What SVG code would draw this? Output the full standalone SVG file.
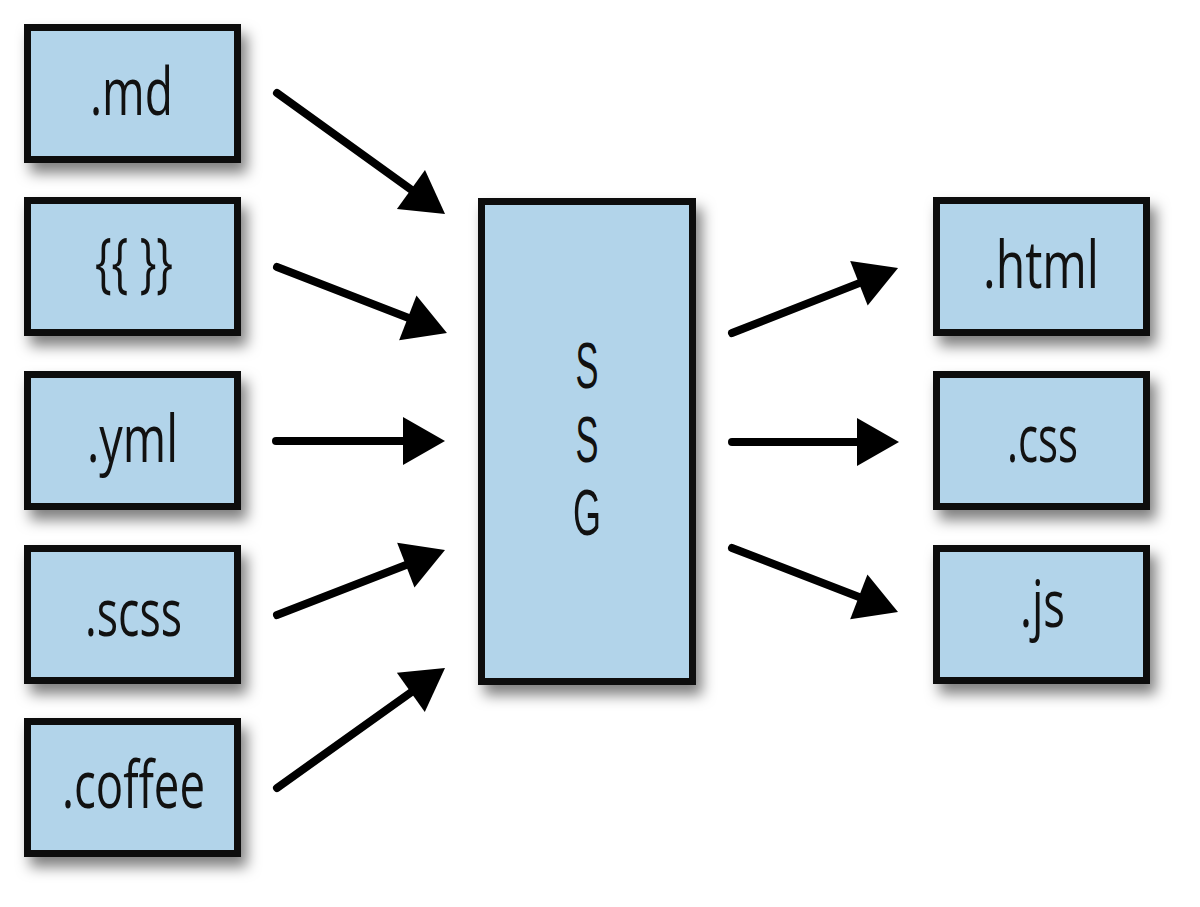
<svg xmlns="http://www.w3.org/2000/svg" width="1200" height="907" viewBox="0 0 1200 907">
<style>
.box{fill:#b2d4ea;stroke:#0b0b0b;stroke-width:7;filter:url(#sh)}
.lbl{font-family:"Open Sans","Liberation Sans",sans-serif;font-size:66px;fill:#111;text-anchor:middle}
.ssg{font-family:"Liberation Sans",Arial,sans-serif;font-size:65px;fill:#111;text-anchor:middle}
.arr{stroke:#000;stroke-width:8;fill:none;stroke-linecap:round;marker-end:url(#ah)}
</style>
<defs>
<filter id="sh" x="-20%" y="-20%" width="150%" height="150%">
<feDropShadow dx="6" dy="10" stdDeviation="7" flood-color="#000" flood-opacity="0.5"/>
</filter>
<marker id="ah" markerUnits="userSpaceOnUse" markerWidth="44" markerHeight="50" refX="12" refY="24" orient="auto" overflow="visible">
<path d="M0,0 L42,24 L0,48 Z" fill="#000"/>
</marker>
</defs>
<rect width="1200" height="907" fill="#fff"/>
<g id="n-md"><rect class="box" x="27.5" y="27.5" width="210" height="132"/><text class="lbl" x="131.5" y="115" textLength="83" lengthAdjust="spacingAndGlyphs">.md</text></g>
<g id="n-tpl"><rect class="box" x="27.5" y="200.5" width="210" height="132"/><text class="lbl" x="134" y="285" textLength="78" lengthAdjust="spacingAndGlyphs">{{ }}</text></g>
<g id="n-yml"><rect class="box" x="27.5" y="374.5" width="210" height="132"/><text class="lbl" x="132.5" y="462" textLength="91" lengthAdjust="spacingAndGlyphs">.yml</text></g>
<g id="n-scss"><rect class="box" x="27.5" y="548.5" width="210" height="132"/><text class="lbl" x="133.5" y="636" textLength="97" lengthAdjust="spacingAndGlyphs">.scss</text></g>
<g id="n-coffee"><rect class="box" x="27.5" y="721.5" width="210" height="132"/><text class="lbl" x="133.5" y="808" textLength="143" lengthAdjust="spacingAndGlyphs">.coffee</text></g>
<g id="n-ssg"><rect class="box" x="481.5" y="201.5" width="211" height="480"/>
<text class="ssg" x="587" y="388" textLength="23" lengthAdjust="spacingAndGlyphs">S</text>
<text class="ssg" x="587" y="462" textLength="23" lengthAdjust="spacingAndGlyphs">S</text>
<text class="ssg" x="587" y="535" textLength="28" lengthAdjust="spacingAndGlyphs">G</text></g>
<g id="n-html"><rect class="box" x="936.5" y="200.5" width="210" height="132"/><text class="lbl" x="1041" y="288" textLength="116" lengthAdjust="spacingAndGlyphs">.html</text></g>
<g id="n-css"><rect class="box" x="936.5" y="374.5" width="210" height="132"/><text class="lbl" x="1042.5" y="462" textLength="71" lengthAdjust="spacingAndGlyphs">.css</text></g>
<g id="n-js"><rect class="box" x="936.5" y="548.5" width="210" height="132"/><text class="lbl" x="1042.5" y="627" textLength="45" lengthAdjust="spacingAndGlyphs">.js</text></g>
<g id="connectors">
<path class="arr" d="M277,93 L420.7,196.5"/>
<path class="arr" d="M277,267 L419,322.1"/>
<path class="arr" d="M276,441 L415,441"/>
<path class="arr" d="M277,615 L417,560.8"/>
<path class="arr" d="M277,788 L420.6,685.4"/>
<path class="arr" d="M732,333 L870.1,278.9"/>
<path class="arr" d="M732,442 L869,442"/>
<path class="arr" d="M732,548 L870,601.2"/>
</g>
</svg>
